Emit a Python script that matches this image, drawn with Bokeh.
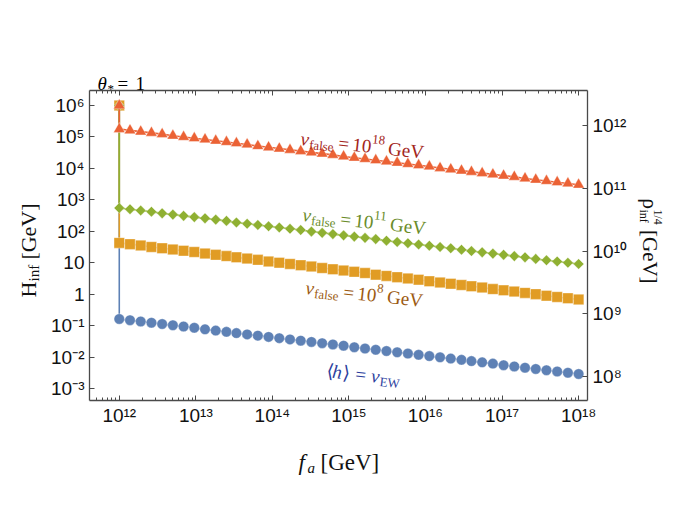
import math
import numpy as np
from bokeh.plotting import figure
from bokeh.models import (Range1d, LogScale, LogAxis, FixedTicker,
                          CustomJSTickFormatter, Label, ColumnDataSource)
from bokeh.embed import file_html
from bokeh.resources import INLINE

# ---------------- data (log10 values) ----------------
log_fa = [12.00, 12.14, 12.28, 12.42, 12.56, 12.70, 12.84, 12.98, 13.12, 13.26,
          13.40, 13.53, 13.67, 13.81, 13.95, 14.09, 14.23, 14.37, 14.51, 14.65,
          14.79, 14.93, 15.07, 15.21, 15.35, 15.49, 15.63, 15.77, 15.91, 16.05,
          16.19, 16.33, 16.47, 16.60, 16.74, 16.88, 17.02, 17.16, 17.30, 17.44,
          17.58, 17.72, 17.86, 18.00]

log_H_ew = [-0.79, -0.83, -0.87, -0.91, -0.95, -0.99, -1.03, -1.07, -1.12, -1.16,
            -1.20, -1.24, -1.28, -1.32, -1.36, -1.40, -1.44, -1.48, -1.52, -1.56,
            -1.60, -1.64, -1.69, -1.73, -1.77, -1.81, -1.85, -1.89, -1.93, -1.97,
            -2.01, -2.05, -2.09, -2.13, -2.17, -2.21, -2.26, -2.30, -2.34, -2.38,
            -2.42, -2.46, -2.50, -2.54]

log_H_v8 = [1.63, 1.59, 1.55, 1.50, 1.46, 1.42, 1.38, 1.34, 1.29, 1.25,
            1.21, 1.17, 1.13, 1.09, 1.04, 1.00, 0.96, 0.92, 0.88, 0.83,
            0.79, 0.75, 0.71, 0.67, 0.62, 0.58, 0.54, 0.50, 0.46, 0.41,
            0.37, 0.33, 0.29, 0.25, 0.21, 0.16, 0.12, 0.08, 0.04, 0.00,
            -0.05, -0.09, -0.13, -0.17]

log_H_v11 = [2.74, 2.70, 2.66, 2.62, 2.57, 2.53, 2.49, 2.45, 2.41, 2.37,
             2.33, 2.28, 2.24, 2.20, 2.16, 2.12, 2.08, 2.04, 1.99, 1.95,
             1.91, 1.87, 1.83, 1.79, 1.75, 1.70, 1.66, 1.62, 1.58, 1.54,
             1.50, 1.46, 1.41, 1.37, 1.33, 1.29, 1.25, 1.21, 1.17, 1.12,
             1.08, 1.04, 1.00, 0.96]

log_H_v18 = [5.25, 5.21, 5.17, 5.13, 5.09, 5.04, 5.00, 4.96, 4.92, 4.88,
             4.84, 4.80, 4.76, 4.71, 4.67, 4.63, 4.59, 4.55, 4.51, 4.47,
             4.43, 4.38, 4.34, 4.30, 4.26, 4.22, 4.18, 4.14, 4.10, 4.06,
             4.01, 3.97, 3.93, 3.89, 3.85, 3.81, 3.77, 3.73, 3.68, 3.64,
             3.60, 3.56, 3.52, 3.48]

# every curve starts with a vertical drop from this common point
start_log_fa = 12.0
start_log_H = 6.0

x_ticks = [1e12, 1e13, 1e14, 1e15, 1e16, 1e17, 1e18]
x_tick_labels = ["10¹²", "10¹³", "10¹⁴", "10¹⁵", "10¹⁶", "10¹⁷", "10¹⁸"]
y_ticks = [1e-3, 1e-2, 1e-1, 1.0, 10.0, 1e2, 1e3, 1e4, 1e5, 1e6]
y_tick_labels = ["10⁻³", "10⁻²", "10⁻¹", "1", "10", "10²", "10³", "10⁴", "10⁵", "10⁶"]
rho_ticks = [1e8, 1e9, 1e10, 1e11, 1e12]
rho_tick_labels = ["10⁸", "10⁹", "10¹⁰", "10¹¹", "10¹²"]

# ---------------- styling / layout ----------------
C_BLUE, C_ORANGE, C_GREEN, C_RED = "#5e81b5", "#e19c24", "#8fb032", "#eb6235"
AXIS_C = "#4a4a4a"
TICK_FONT = "Liberation Sans"
SERIF = "Liberation Serif"
NB = "\u00a0"

FW, FH = 498, 310
X_LO, X_HI = 11.611, 18.116
Y_LO, Y_HI = -3.383, 6.477

p = figure(frame_width=FW, frame_height=FH,
           x_axis_type="log", y_axis_type="log",
           x_range=Range1d(10 ** X_LO, 10 ** X_HI),
           y_range=Range1d(10 ** Y_LO, 10 ** Y_HI),
           output_backend="svg", toolbar_location=None,
           min_border_left=89, min_border_right=60,
           min_border_top=90, min_border_bottom=103)
p.xgrid.visible = False
p.ygrid.visible = False
p.outline_line_color = None
p.background_fill_color = "white"
p.border_fill_color = "white"

p.extra_y_ranges = {"rho": Range1d(10 ** 7.618, 10 ** 12.558)}
p.extra_y_scales = {"rho": LogScale()}


def label_formatter(tvals, tlabels):
    return CustomJSTickFormatter(args=dict(tvals=tvals, tlabels=tlabels), code="""
        let best = 0, bd = Infinity;
        for (let i = 0; i < tvals.length; i++) {
            const d = Math.abs(Math.log10(tvals[i]) - Math.log10(tick));
            if (d < bd) { bd = d; best = i; }
        }
        return bd < 0.01 ? tlabels[best] : "";
    """)


def style_axis(ax, standoff=6, size="19px"):
    ax.axis_line_color = AXIS_C
    ax.axis_line_width = 1.3
    ax.major_tick_line_color = AXIS_C
    ax.minor_tick_line_color = AXIS_C
    ax.major_tick_in = 5
    ax.major_tick_out = 0
    ax.minor_tick_in = 3
    ax.minor_tick_out = 0
    ax.major_label_text_font = TICK_FONT
    ax.major_label_text_font_size = size
    ax.major_label_text_color = "#111111"
    ax.major_label_standoff = standoff


x_minor = [k * 10.0 ** n for n in range(11, 18) for k in range(2, 10)]

bottom = p.below[0]
bottom.ticker = FixedTicker(ticks=x_ticks, minor_ticks=x_minor)
bottom.formatter = label_formatter(x_ticks, x_tick_labels)
style_axis(bottom, 4)

left = p.left[0]
left.ticker = FixedTicker(ticks=y_ticks, minor_ticks=[])
left.formatter = label_formatter(y_ticks, y_tick_labels)
style_axis(left, 5)

top = LogAxis(ticker=FixedTicker(ticks=x_ticks, minor_ticks=x_minor),
              formatter=CustomJSTickFormatter(code="return '';"))
style_axis(top, 0, "0px")
p.add_layout(top, "above")

right = LogAxis(y_range_name="rho",
                ticker=FixedTicker(ticks=rho_ticks, minor_ticks=[]),
                formatter=label_formatter(rho_ticks, rho_tick_labels))
style_axis(right, 5)
p.add_layout(right, "right")

# ---------------- series ----------------
series = [
    (log_H_ew, C_BLUE, "circle", 10.5, 0.0),
    (log_H_v8, C_ORANGE, "square", 10.5, 0.0),
    (log_H_v11, C_GREEN, "square", 7.5, math.pi / 4),
    (log_H_v18, C_RED, "triangle", 11.5, 0.0),
]
for logH, col, marker, size, ang in series:
    xs = 10.0 ** np.array([start_log_fa] + log_fa)
    ys = 10.0 ** np.array([start_log_H] + logH)
    src = ColumnDataSource(dict(x=xs, y=ys))
    p.line("x", "y", source=src, line_color=col, line_width=1.6)
    p.scatter("x", "y", source=src, marker=marker, size=size, angle=ang,
              fill_color=col, line_color="white", line_alpha=0.45, line_width=0.8)


# ---------------- rich text helper ----------------
def rich(x, y, pieces, angle=0.0, color="black", place="center"):
    ca, sa = math.cos(angle), math.sin(angle)
    for text, d, s, size, style in pieces:
        p.add_layout(Label(x=x, y=y,
                           x_offset=d * ca - s * sa, y_offset=d * sa + s * ca,
                           text=text, angle=angle, text_font=SERIF,
                           text_font_size=f"{size}px", text_font_style=style,
                           text_color=color, text_align="left",
                           text_baseline="alphabetic"), place)


def frame_px(px, py):
    """frame-relative pixel position (x right, y up) -> data coordinates"""
    lx = X_LO + px * (X_HI - X_LO) / FW
    ly = Y_LO + py * (Y_HI - Y_LO) / FH
    return 10 ** lx, 10 ** ly


TILT = -0.11

rich(10 ** 14.371, 10 ** 4.950,
     [("v", 0, 0, 19, "italic"), ("false", 9, -5, 13, "normal"),
      ("=", 38, 0, 19, "normal"), ("10", 52, 0, 19, "normal"),
      ("18", 71, 7, 13, "normal"), ("GeV", 88, 0, 19, "normal")],
     angle=TILT, color="#a3261c")

rich(10 ** 14.397, 10 ** 2.533,
     [("v", 0, 0, 19, "italic"), ("false", 9, -5, 13, "normal"),
      ("=", 38, 0, 19, "normal"), ("10", 52, 0, 19, "normal"),
      ("11", 71, 7, 13, "normal"), ("GeV", 88, 0, 19, "normal")],
     angle=TILT, color="#6a8c2a")

rich(10 ** 14.436, 10 ** 0.211,
     [("v", 0, 0, 19, "italic"), ("false", 9, -5, 13, "normal"),
      ("=", 38, 0, 19, "normal"), ("10", 52, 0, 19, "normal"),
      ("8", 71, 7, 13, "normal"), ("GeV", 82, 0, 19, "normal")],
     angle=TILT, color="#9c5b12")

rich(10 ** 14.708, 10 ** -2.429,
     [("⟨", 0, 0, 19, "normal"), ("h", 6, 0, 19, "italic"),
      ("⟩", 16, 0, 19, "normal"), ("=", 29, 0, 19, "normal"),
      ("v", 45, 0, 19, "italic"), ("EW", 54, -5, 13, "normal")],
     angle=TILT, color="#2d3f9e")

# theta label above the frame
rich(*frame_px(8, 317),
     [("θ", 0, 0, 19, "italic"), ("*", 10, -5, 13, "normal"),
      ("=", 20, 0, 19, "normal"), ("1", 38, 0, 19, "normal")],
     color="black", place="above")

# x axis title
rich(*frame_px(209, -62),
     [("f", 0, 0, 23, "italic"), ("a", 9, -5, 15, "italic"),
      ("[GeV]", 22, 0, 23, "normal")],
     color="#111111", place="below")

# left axis title (reads upward)
rich(*frame_px(-61, 103),
     [("H" + NB * 4 + "[GeV]", 0, 0, 22, "normal"), ("inf", 16, -5, 15, "normal")],
     angle=math.pi / 2, color="#111111", place="left")

# right axis title (reads downward)
rich(*frame_px(560, 202),
     [("ρ" + NB * 4 + "[GeV]", 0, 0, 21, "normal"), ("inf", 11, -6, 12, "normal"),
      ("1/4", 11, 8, 12, "normal")],
     angle=-math.pi / 2, color="#111111", place="right")

open("out.html", "w").write(file_html(p, INLINE))
